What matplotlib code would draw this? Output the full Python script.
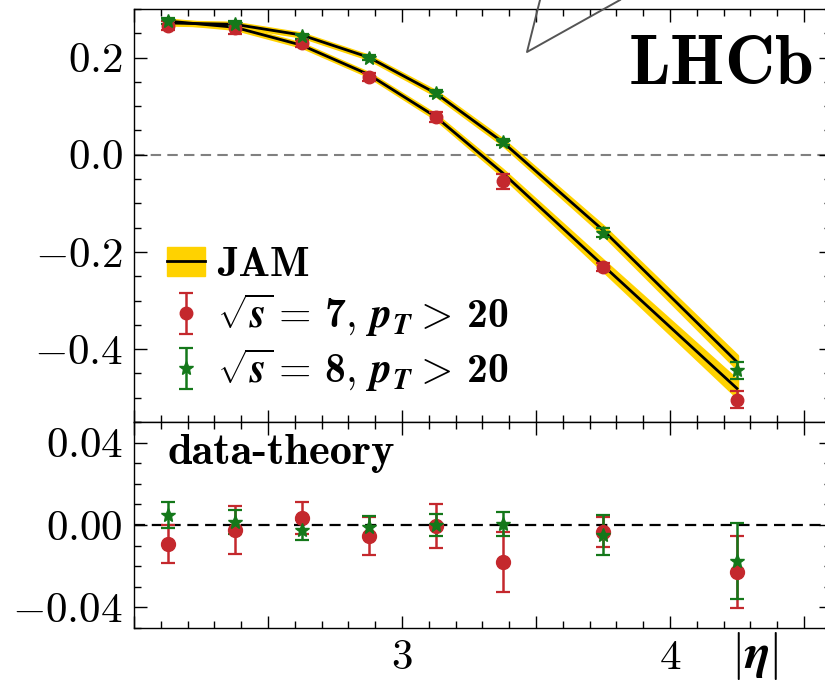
import numpy as np
import matplotlib
matplotlib.use("Agg")
import matplotlib.pyplot as plt
from matplotlib.lines import Line2D
from matplotlib.patches import Patch
from matplotlib.ticker import MultipleLocator, FuncFormatter

plt.rcParams["mathtext.fontset"] = "cm"
plt.rcParams["font.family"] = ["cmr10", "DejaVu Serif"]
plt.rcParams["axes.formatter.use_mathtext"] = True

# |eta| bin centres
eta = [2.125, 2.375, 2.625, 2.875, 3.125, 3.375, 3.75, 4.25]

# sqrt(s)=7 TeV, pT>20
asym7 = [0.266, 0.260, 0.229, 0.160, 0.078, -0.055, -0.231, -0.504]
err7 = [0.0092, 0.0115, 0.0078, 0.0092, 0.0105, 0.0145, 0.0075, 0.0175]
jam7 = [0.2752, 0.2625, 0.2256, 0.1653, 0.0785, -0.0370, -0.2276, -0.4810]
band7 = [0.003, 0.003, 0.003, 0.003, 0.004, 0.006, 0.010, 0.017]
resid7 = [-0.0092, -0.0025, 0.0034, -0.0053, -0.0005, -0.0180, -0.0034, -0.0230]

# sqrt(s)=8 TeV, pT>20
asym8 = [0.276, 0.270, 0.244, 0.200, 0.127, 0.027, -0.160, -0.444]
err8 = [0.0063, 0.0060, 0.0050, 0.0050, 0.0053, 0.0060, 0.0097, 0.0185]
jam8 = [0.2712, 0.2685, 0.2465, 0.2008, 0.1270, 0.0265, -0.1550, -0.4265]
band8 = [0.003, 0.003, 0.003, 0.003, 0.004, 0.005, 0.008, 0.013]
resid8 = [0.0048, 0.0015, -0.0025, -0.0008, 0.0000, 0.0005, -0.0050, -0.0175]

RED = "#c4282d"
GREEN = "#14781a"
GOLD = "#ffd200"
BOLD = ["cmb10", "DejaVu Serif"]

fig = plt.figure(figsize=(8.25, 6.81), dpi=100)
W, H = 825.0, 681.0
x0, x1 = 134.0, 134.0 + 2.6 * 268.0
ax = fig.add_axes([x0 / W, 1 - 422 / H, (x1 - x0) / W, (422 - 9) / H])
axr = fig.add_axes([x0 / W, 1 - 628 / H, (x1 - x0) / W, (628 - 422) / H], sharex=ax)

for a in (ax, axr):
    a.tick_params(which="both", direction="in", top=True, right=True,
                  labelsize=31, width=1.0, pad=8)
    a.tick_params(which="major", length=9)
    a.tick_params(which="minor", length=5)
    for s in a.spines.values():
        s.set_linewidth(1.0)
    a.xaxis.set_major_locator(MultipleLocator(0.5))
    a.xaxis.set_minor_locator(MultipleLocator(0.1))

ax.set_xlim(2.0, 4.6)
ax.set_ylim(-0.55, 0.3)
ax.yaxis.set_major_locator(MultipleLocator(0.2))
ax.yaxis.set_minor_locator(MultipleLocator(0.05))
ax.yaxis.set_major_formatter(FuncFormatter(lambda v, p: r"$%.1f$" % v))
ax.tick_params(labelbottom=False)

axr.set_ylim(-0.05, 0.05)
axr.yaxis.set_major_locator(MultipleLocator(0.04))
axr.yaxis.set_minor_locator(MultipleLocator(0.01))
axr.yaxis.set_major_formatter(FuncFormatter(lambda v, p: r"$%.2f$" % v))
axr.xaxis.set_major_formatter(
    FuncFormatter(lambda v, p: r"$%d$" % round(v) if abs(v - round(v)) < 1e-6 and v > 2.5 else ""))

# theory bands with central lines
for jam, band in ((jam7, band7), (jam8, band8)):
    jam = np.array(jam)
    band = np.array(band)
    ax.fill_between(eta, jam - band, jam + band, color=GOLD, lw=2.5, ec=GOLD, zorder=2)
    ax.plot(eta, jam, color="black", lw=2.0, zorder=3)

ax.axhline(0, color="gray", ls="--", lw=1.5, dashes=(5, 3), zorder=1)

kw = dict(ls="none", capsize=5, elinewidth=1.8, capthick=1.6, zorder=4)
e7 = ax.errorbar(eta, asym7, yerr=err7, color=RED, marker="o", ms=9, **kw)
e8 = ax.errorbar(eta, asym8, yerr=err8, color=GREEN, marker="*", ms=10, **kw)

ax.text(0.973, 0.935, r"$\mathbf{LHCb}$", transform=ax.transAxes, fontsize=50,
        ha="right", va="top")

# outline wedge reaching in from above the panel
fig.add_artist(Line2D([540 / W, 527 / W, 620 / W], [1.0, 1 - 52 / H, 1.0],
                      color="#555555", lw=1.4, transform=fig.transFigure))

h_jam = (Patch(color=GOLD), Line2D([], [], color="black", lw=2.0))
lab7 = r"$\sqrt{\mathbfit{s}}=\,$7$,\,\mathbfit{p}_{\mathbfit{T}}>\,$20"
lab8 = r"$\sqrt{\mathbfit{s}}=\,$8$,\,\mathbfit{p}_{\mathbfit{T}}>\,$20"
ax.legend([h_jam, e7, e8], ["JAM", lab7, lab8],
          loc="lower left", bbox_to_anchor=(0.0, -0.013), frameon=False,
          prop={"family": BOLD, "size": 30}, handlelength=0.9,
          handletextpad=0.3, labelspacing=0.18, borderaxespad=0.4)

# residual panel
axr.axhline(0, color="black", ls="--", lw=1.6, dashes=(5, 3), zorder=1)
axr.errorbar(eta, resid7, yerr=err7, color=RED, marker="o", ms=10, **kw)
axr.errorbar(eta, resid8, yerr=err8, color=GREEN, marker="*", ms=10, **kw)
axr.text(0.048, 0.94, "data-theory", transform=axr.transAxes, fontsize=32,
         family=BOLD, ha="left", va="top")
axr.text(4.315, -0.01, r"$|\boldsymbol{\eta}|$", transform=axr.get_xaxis_transform(),
         fontsize=35, ha="center", va="top")

fig.savefig("out.png", dpi=100)
